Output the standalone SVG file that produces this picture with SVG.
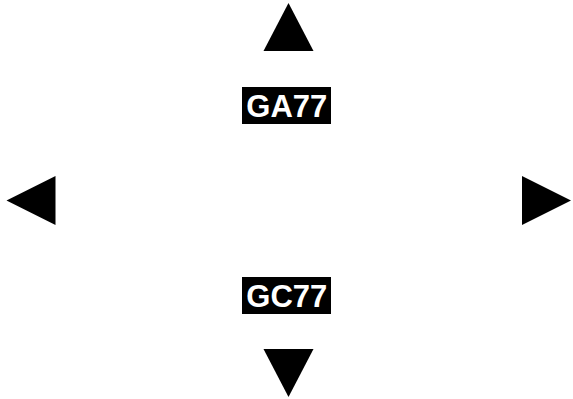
<svg xmlns="http://www.w3.org/2000/svg" width="573" height="399" viewBox="0 0 573 399">
<style>
.arrow{fill:#000}
.box{fill:#000}
.lbl{fill:#fff;font-family:"Liberation Sans",Arial,sans-serif;font-weight:bold;font-size:31px;text-anchor:middle}
</style>
<rect width="573" height="399" fill="#fff"/>
<g id="connectors">
<polygon id="arrow-up" class="arrow" points="288.5,3 263.5,51 313.5,51"/>
<polygon id="arrow-down" class="arrow" points="263.5,349 313.5,349 288.5,397"/>
<polygon id="arrow-left" class="arrow" points="6.5,200.5 55.5,176 55.5,225"/>
<polygon id="arrow-right" class="arrow" points="522,176 571,200.5 522,225"/>
</g>
<g id="node-GA77">
<rect class="box" x="242" y="87" width="89" height="37"/>
<text class="lbl" x="286.8" y="116.5" textLength="81" lengthAdjust="spacingAndGlyphs">GA77</text>
</g>
<g id="node-GC77">
<rect class="box" x="242" y="277" width="89" height="37"/>
<text class="lbl" x="286.8" y="306.5" textLength="81" lengthAdjust="spacingAndGlyphs">GC77</text>
</g>
</svg>
